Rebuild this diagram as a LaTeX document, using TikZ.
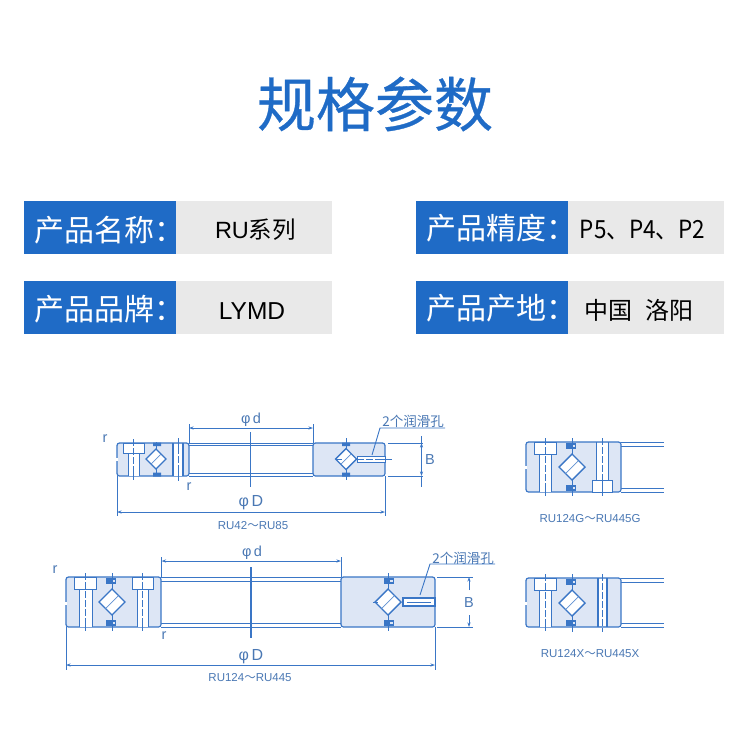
\documentclass[tikz,border=0pt]{standalone}
\usepackage{fontspec}
\setmainfont{Liberation Sans}
\newfontfamily\cjk{Noto Sans CJK SC}
\newfontfamily\cjkm[FakeBold=0.5]{Noto Sans CJK SC}
\usetikzlibrary{arrows.meta}
\definecolor{hblue}{HTML}{1F6BC6}
\definecolor{hgray}{HTML}{E9E9E9}
\definecolor{lblue}{HTML}{3A76C6}
\definecolor{sblue}{HTML}{DDE6F5}
\definecolor{tblue}{HTML}{4A78B4}
\tikzset{
  hkey/.style={fill=hblue,minimum width=152pt,minimum height=53pt,inner sep=0pt,outer sep=0pt},
  hval/.style={fill=hgray,minimum width=156pt,minimum height=53pt,inner sep=0pt,outer sep=0pt},
  ktext/.style={text=white,anchor=west,inner sep=0pt,font=\cjk\fontsize{30}{33}\selectfont},
  vtext/.style={text=black,inner sep=0pt,font=\fontsize{23}{26}\selectfont},
  ln/.style={draw=lblue,line width=1pt},
  lnb/.style={draw=lblue,line width=1.6pt},
  sec/.style={draw=lblue,line width=1.2pt,fill=sblue,rounded corners=2.5pt},
  cl/.style={draw=lblue,line width=1pt},
  dm/.style={draw=lblue,line width=0.9pt},
  dima/.style={dm,{Stealth[length=4.5pt,width=3pt]}-{Stealth[length=4.5pt,width=3pt]}},
  lab/.style={text=tblue,inner sep=0pt,font=\fontsize{14.5}{16}\selectfont},
  captxt/.style={text=tblue,inner sep=0pt,font=\fontsize{11.5}{13}\selectfont},
  zh/.style={text=tblue,inner sep=0pt,font=\cjk\fontsize{13.5}{15}\selectfont},
}
% roller diamond: x, y, half size, half length of axis line
\newcommand{\roller}[4]{%
  \draw[cl] (#1,{#2-#4}) -- (#1,{#2+#4});
  \draw[ln,line width=1.4pt,fill=white] ({#1-#3},#2) -- (#1,{#2-#3}) -- ({#1+#3},#2) -- (#1,{#2+#3}) -- cycle;
  \draw[lblue!80,line width=0.7pt] ({#1-0.5*#3},{#2+0.5*#3}) -- ({#1+0.5*#3},{#2-0.5*#3});
}
% seal pair (small hooked shapes): x, top y, bottom y
\newcommand{\seals}[3]{%
  \fill[lblue] ({#1-5},#2) rectangle ({#1+5},{#2+6});
  \fill[sblue] ({#1+0.5},{#2+1.6}) rectangle ({#1+3.5},{#2+4});
  \fill[lblue] ({#1-5},{#3-6}) rectangle ({#1+5},#3);
  \fill[sblue] ({#1+0.5},{#3-4}) rectangle ({#1+3.5},{#3-1.6});
}
% counterbored bolt hole: bore left, bore right, line1, line2, face y, step y, far y
\newcommand{\bolt}[7]{%
  \fill[white] (#3,#6) rectangle (#4,#7);
  \draw[ln,fill=white] (#1,#5) rectangle (#2,#6);
  \draw[ln] (#3,#6) -- (#3,#7) (#4,#6) -- (#4,#7);
  \draw[cl,line width=0.7pt,dashed,dash pattern=on 7pt off 2pt] ({(#3+#4)/2},{#5-4}) -- ({(#3+#4)/2},{#7+4});
  \draw[cl] ({(#3+#4)/2},{#5-4}) -- ({(#3+#4)/2},{#5+3});
  \draw[cl] ({(#3+#4)/2},{#7-3}) -- ({(#3+#4)/2},{#7+4});
}
% small break in a ring's outer edge
\newcommand{\notch}[2]{\fill[white] ({#1-1},{#2-1.5}) rectangle ({#1+1},{#2+1.5});}
\begin{document}
\begin{tikzpicture}[x=1pt,y=-1pt]
\useasboundingbox (0,0) rectangle (750,750);
\fill[white] (0,0) rectangle (750,750);

% title
\node[text=hblue,inner sep=0pt,font=\cjkm\fontsize{59}{62}\selectfont] (title) at (375,104) {规格参数};

% parameter table
\node[hkey,anchor=north west] (k1) at (24,201) {};
\node[hval,anchor=north west] (v1) at (176,201) {};
\node[hkey,anchor=north west] (k2) at (24,281) {};
\node[hval,anchor=north west] (v2) at (176,281) {};
\node[hkey,anchor=north west] (k3) at (416,201) {};
\node[hval,anchor=north west] (v3) at (568,201) {};
\node[hkey,anchor=north west] (k4) at (416,281) {};
\node[hval,anchor=north west] (v4) at (568,281) {};
\node[ktext] (kt1) at (34,230) {产品名称：};
\node[ktext] (kt2) at (34,309) {产品品牌：};
\node[ktext] (kt3) at (426,228) {产品精度：};
\node[ktext] (kt4) at (426,308) {产品产地：};
\node[vtext] (vt1) at (255.5,230) {\fontsize{23.5}{25}\selectfont RU{\cjk 系列}};
\node[vtext] (vt2) at (252,311) {\fontsize{24.5}{26}\selectfont LYMD};
\node[vtext] (vt3) at (642.5,230) {\scalebox{0.9}[1]{\cjk\fontsize{25}{27}\selectfont P5、P4、P2}};
\node[vtext] (vt4) at (639,310) {\cjk\fontsize{24}{28}\selectfont 中国\hspace{13pt}洛阳};

% ---------- drawing 1: RU42-RU85
\draw[ln] (189,443) -- (313,443) (189,445.5) -- (313,445.5) (189,473.5) -- (313,473.5) (189,476) -- (313,476);
\draw[sec] (117,443) rectangle (189,476);
\draw[sec] (313,443) rectangle (385,476);
\notch{117}{459}
\bolt{123}{144}{128}{139}{443}{453}{476}
\fill[white] (173,444) rectangle (183,475.5);
\draw[lnb] (173,443) -- (173,476) (183,443) -- (183,476);
\draw[cl] (178,438) -- (178,447) (178,472) -- (178,481);
\draw[cl,line width=0.7pt,dash pattern=on 7pt off 2pt] (178,447) -- (178,472);
\roller{156}{459}{10}{17}
\fill[lblue] (153,442.5) rectangle (161,446) (153,472.5) rectangle (161,476.5);
\roller{346}{459}{10.5}{21}
\fill[lblue] (342,442.5) rectangle (350,446) (342,472.5) rectangle (350,476.5);
\draw[cl] (336,459) -- (342,459);
\draw[ln,fill=white] (357,456.5) rectangle (385.5,462);
\draw[cl] (380,459) -- (392,459);
\draw[cl,line width=0.7pt,dash pattern=on 7pt off 2pt] (357,459) -- (380,459);
\draw[cl,line width=1.4pt] (250.7,432) -- (250.7,487);
% dimensions 1
\draw[dm] (189,424) -- (189,443) (313,424) -- (313,443);
\draw[dima] (189,428) -- (313,428);
\node[lab] (d1) at (251,420) {φ\,d};
\draw[dm] (117,476) -- (117,516) (385,476) -- (385,516);
\draw[dima] (117,512) -- (385,512);
\node[lab,font=\fontsize{16}{18}\selectfont] (D1) at (251,503) {φ\,D};
\draw[dm] (388,443) -- (423,443) (388,476) -- (423,476);
\draw[dima] (421.5,443) -- (421.5,476);
\draw[dm] (421.5,436) -- (421.5,443) (421.5,476) -- (421.5,487);
\node[lab] (B1) at (430,460) {B};
\node[lab] (r1a) at (105,439) {r};
\node[lab] (r1b) at (189,487) {r};
\node[captxt] (c1) at (253,526) {RU42{\cjk ～}RU85};
\node[zh] (h1) at (413,421) {2个润滑孔};
\coordinate (h1a) at (445,428);
\coordinate (h1b) at (380,428);
\coordinate (h1c) at (372,455);
\draw[dm] (h1a) -- (h1b) -- (h1c);

% ---------- drawing 2: RU124-RU445
\draw[ln] (161,577) -- (341,577) (161,581) -- (341,581) (161,623) -- (341,623) (161,627) -- (341,627);
\draw[sec] (66,577) rectangle (161,627);
\draw[sec] (341,577) rectangle (435,627);
\notch{66}{603}
\bolt{74}{96}{79}{92}{577}{589}{627}
\bolt{132}{153}{137}{148}{577}{589}{627}
\seals{111}{578}{626}
\roller{112}{602}{13}{29}
\seals{389}{578}{626}
\roller{388}{602}{13}{29}
\draw[cl] (373,602) -- (378,602);
\draw[ln,line width=1.3pt,fill=white] (403,598) -- (435,598) -- (435,606) -- (403,606) -- cycle;
\draw[cl] (407,602) -- (431,602);
\draw[cl,line width=1.4pt] (251,567) -- (251,638);
% dimensions 2
\draw[dm] (161.5,557) -- (161.5,577) (341,557) -- (341,577);
\draw[dima] (161.5,561) -- (341,561);
\node[lab] (d2) at (252,553) {φ\,d};
\draw[dm] (66,627) -- (66,670) (435,627) -- (435,670);
\draw[dima] (66,665) -- (435,665);
\node[lab,font=\fontsize{16}{18}\selectfont] (D2) at (251,657) {φ\,D};
\draw[dm] (437,577) -- (473,577) (437,627) -- (473,627);
\draw[dm,-{Stealth[length=4.5pt,width=3pt]}] (469,590) -- (469,577);
\draw[dm,-{Stealth[length=4.5pt,width=3pt]}] (469,615) -- (469,627);
\node[lab] (B2) at (469,603) {B};
\node[lab] (r2a) at (55,570) {r};
\node[lab] (r2b) at (164,636) {r};
\node[captxt] (c2) at (250,678) {RU124{\cjk ～}RU445};
\node[zh] (h2) at (463,558) {2个润滑孔};
\coordinate (h2a) at (495,564);
\coordinate (h2b) at (430,564);
\coordinate (h2c) at (420,595);
\draw[dm] (h2a) -- (h2b) -- (h2c);

% ---------- drawing 3: RU124G-RU445G
\draw[ln] (621,442) -- (664,442) (621,446) -- (664,446) (621,488) -- (664,488) (621,492) -- (664,492);
\draw[sec] (526,442) rectangle (621,492);
\notch{526}{467}
\bolt{534}{556}{539}{551}{442}{454}{492}
\fill[white] (596,442.6) rectangle (608,480);
\draw[ln] (596,442) -- (596,480) (608,442) -- (608,480);
\draw[ln,fill=white] (592,480) rectangle (612,492);
\draw[cl,line width=0.7pt,dash pattern=on 7pt off 2pt] (602,438) -- (602,496);
\draw[cl] (602,438) -- (602,445) (602,480) -- (602,496);
\seals{571}{443}{491}
\roller{572}{467}{13}{29}
\node[captxt] (c3) at (590,519) {RU124G{\cjk ～}RU445G};

% ---------- drawing 4: RU124X-RU445X
\draw[ln] (621,578) -- (664,578) (621,582) -- (664,582) (621,623) -- (664,623) (621,627) -- (664,627);
\draw[sec] (526,578) rectangle (621,627);
\notch{526}{603}
\bolt{534}{556}{539}{551}{578}{590}{627}
\fill[white] (598,578.6) rectangle (607,626.4);
\draw[lnb] (598,578) -- (598,627) (607,578) -- (607,627);
\draw[cl,line width=0.7pt,dash pattern=on 7pt off 2pt] (602.5,574) -- (602.5,632);
\seals{571}{579}{626}
\roller{572}{603}{13}{29}
\node[captxt] (c4) at (590,654) {RU124X{\cjk ～}RU445X};
\end{tikzpicture}
\end{document}
